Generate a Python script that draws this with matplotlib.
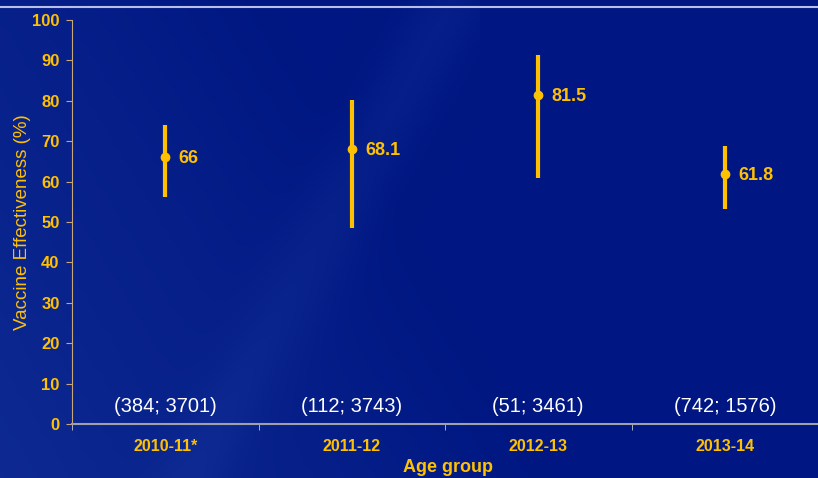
import matplotlib.pyplot as plt
import numpy as np

plt.rcParams['font.family'] = ['Liberation Sans', 'DejaVu Sans']

# data
seasons = ['2010-11*', '2011-12', '2012-13', '2013-14']
ve = [66, 68.1, 81.5, 61.8]
ci_low = [56.2, 48.6, 61.0, 53.3]
ci_high = [74.0, 80.2, 91.3, 68.9]
counts = ['(384; 3701)', '(112; 3743)', '(51; 3461)', '(742; 1576)']

yellow = '#FFC000'

fig = plt.figure(figsize=(8.18, 4.78), dpi=100)

# background: dark blue, a bit lighter towards the lower left
bg = fig.add_axes([0, 0, 1, 1])
h, w = 478, 818
yy, xx = np.mgrid[0:h, 0:w]
base = np.array([0.0, 0.09, 0.51])
light = np.array([0.06, 0.17, 0.58])
t = np.clip(1 - (xx + 0.6 * (h - yy)) / 560.0, 0, 1) * 0.9
streak = np.exp(-((xx - 0.55 * (h - yy) - 190) / 40.0) ** 2) * 0.35
t = np.clip(t + streak * (xx < 480), 0, 1)
img = base + (light - base) * t[..., None]
bg.imshow(img, aspect='auto', extent=[0, 1, 0, 1], origin='upper')
bg.axhline(1 - 6.5 / h, color='#b8c0e8', lw=1.5)
bg.set_xlim(0, 1)
bg.set_ylim(0, 1)
bg.axis('off')

ax = fig.add_axes([72 / 818, 1 - 424 / 478, 1 - 72 / 818, 404 / 478])
ax.patch.set_alpha(0)
x = np.arange(len(seasons))

ax.vlines(x, ci_low, ci_high, color=yellow, lw=3)
ax.plot(x, ve, 'o', color=yellow, ms=6, zorder=3)
for xi, v in zip(x, ve):
    ax.annotate(f'{v:g}', (xi, v), xytext=(9.5, -1), textcoords='offset points',
                va='center', ha='left', color=yellow, fontsize=13, fontweight='bold')
for xi, c in zip(x, counts):
    ax.text(xi, 4.3, c, ha='center', va='center', color='white', fontsize=14.5)

ax.set_xlim(-0.5, (818 - 72) / 188 - 0.5)
ax.set_ylim(0, 100)
ax.set_yticks(range(0, 101, 10))
ax.set_xticks(x)
ax.set_xticklabels(seasons)
ax.set_xticks(np.arange(-0.5, 4, 1), minor=True)
ax.tick_params(axis='x', which='major', length=0, pad=11)
ax.tick_params(axis='x', which='minor', length=4, color='#c8c8c8', direction='out')
ax.tick_params(axis='y', length=4, color='#c8a878', pad=5)
for lab in ax.get_xticklabels():
    lab.set_color(yellow)
    lab.set_fontweight('bold')
    lab.set_fontsize(11.5)
for lab in ax.get_yticklabels():
    lab.set_color(yellow)
    lab.set_fontweight('bold')
    lab.set_fontsize(12)

for s in ['top', 'right']:
    ax.spines[s].set_visible(False)
ax.spines['left'].set_color('#c8a878')
ax.spines['bottom'].set_color('#a0a0a8')
ax.spines['bottom'].set_linewidth(1.5)

ax.set_ylabel('Vaccine Effectiveness (%)', color=yellow, fontsize=13.5, labelpad=1)
fig.text(448 / 818, 1 - 467 / 478, 'Age group', ha='center', va='center',
         color=yellow, fontsize=13, fontweight='bold')

fig.savefig('out.png', dpi=100)
